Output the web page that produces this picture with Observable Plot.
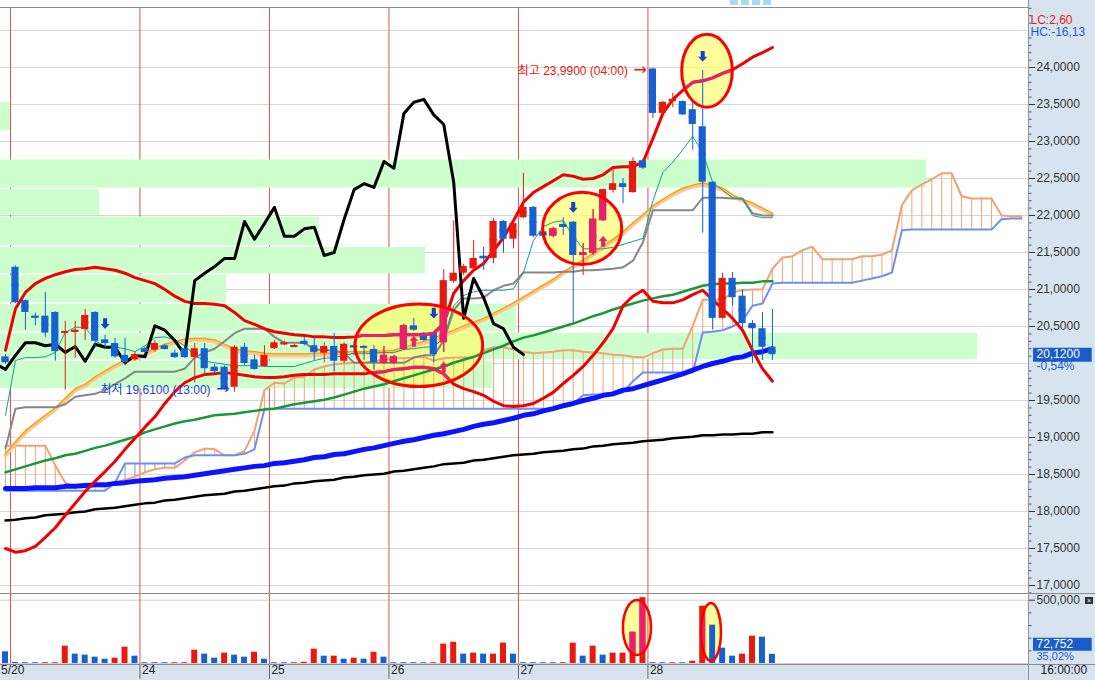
<!DOCTYPE html>
<html><head><meta charset="utf-8">
<script src="https://cdn.jsdelivr.net/npm/d3@7"></script>
<script src="https://cdn.jsdelivr.net/npm/@observablehq/plot@0.6"></script>
<style>
body{margin:0;background:#fff;}
#wrap{position:relative;width:1095px;height:680px;overflow:hidden;background:#fff;}
.abs{position:absolute;}
</style></head><body>
<div id="wrap">
  <div class="abs" style="left:1028px;top:0;width:67px;height:680px;background:#d8e3f0"></div>
  <div class="abs" style="left:0;top:664px;width:1028px;height:16px;background:#d8e3f0"></div>
  <div id="pp" class="abs" style="left:0;top:0"></div>
  <div id="vv" class="abs" style="left:0;top:593px"></div>
  <div class="abs" style="left:0;top:7px;width:1028px;height:1px;background:#8c8c8c"></div>
  <div class="abs" style="left:0;top:593px;width:1095px;height:1px;background:#8c8c8c"></div>
  <div class="abs" style="left:0;top:664px;width:1095px;height:1px;background:#8c8c8c"></div>
  <div class="abs" style="left:1028px;top:0;width:1px;height:680px;background:#8c96a2"></div>
  <div class="abs" style="left:730px;top:0;width:8px;height:5px;background:#a8d8f2"></div>
  <div class="abs" style="left:741px;top:0;width:8px;height:5px;background:#a8d8f2"></div>
  <div class="abs" style="left:752px;top:0;width:8px;height:5px;background:#a8d8f2"></div>
  <div class="abs" style="left:763px;top:0;width:8px;height:5px;background:#a8d8f2"></div>
  <div class="abs" style="left:1085px;top:597px;width:8px;height:7px;background:#333;color:#fff;font:7px/7px sans-serif;text-align:center">×</div>
</div>
<script>
// ---------- data (hourly bars, index 0..77) ----------
const open = [20.09,21.30,20.85,20.64,20.64,20.69,20.42,20.43,20.46,20.69,
20.32,20.27,20.11,20.05,20.20,20.18,20.24,20.14,20.20,20.08,
20.20,19.95,19.95,19.68,20.22,20.05,19.96,20.20,20.26,20.23,
20.30,20.24,20.14,20.23,20.03,20.24,20.23,20.19,20.00,20.00,
20.19,20.51,20.41,20.42,20.28,21.11,21.22,21.28,21.45,21.42,
21.92,21.68,21.97,22.11,21.78,21.72,21.88,21.91,21.46,21.49,
21.93,22.34,22.43,22.31,22.74,23.98,23.38,23.55,23.54,23.43,
23.20,22.45,20.61,21.15,20.91,20.54,20.47,20.22];
const high = [20.12,21.32,20.86,20.68,20.96,20.70,20.57,20.57,20.73,20.70,
20.38,20.34,20.34,20.15,20.22,20.31,20.26,20.18,20.22,20.27,
20.27,19.99,19.97,20.24,20.27,20.11,20.24,20.31,20.30,20.26,
20.35,20.35,20.28,20.41,20.28,20.27,20.24,20.24,20.23,20.11,
20.53,20.61,20.42,20.43,21.27,21.93,21.34,21.66,21.57,21.96,
21.93,21.93,22.57,22.12,21.80,21.84,21.97,21.92,21.62,22.08,
22.36,22.64,22.50,22.78,22.76,23.99,23.54,23.65,23.55,23.55,
23.96,22.46,21.22,21.23,21.00,20.58,20.69,20.73];
const low = [19.99,20.81,20.45,20.51,20.35,20.03,19.64,20.07,20.31,20.22,
20.19,20.07,19.97,20.03,20.14,20.15,20.18,20.07,20.07,19.74,
19.86,19.86,19.64,19.61,19.97,19.91,19.95,20.19,20.24,20.22,
20.24,20.04,20.01,19.89,20.00,20.11,20.04,19.91,19.99,19.99,
20.18,20.43,20.30,20.01,20.15,21.08,21.19,21.26,21.26,21.35,
21.49,21.55,21.96,21.70,21.70,21.70,21.73,20.55,21.19,21.46,
21.92,22.30,22.16,22.30,22.62,23.31,23.36,23.46,23.35,22.88,
21.76,20.46,20.60,20.78,20.47,20.00,20.04,20.04];
const close = [20.01,20.82,20.69,20.62,20.41,20.16,20.43,20.45,20.65,20.30,
20.27,20.09,20.01,20.12,20.15,20.27,20.19,20.08,20.08,20.20,
19.93,19.89,19.66,20.22,20.00,19.92,20.11,20.28,20.28,20.24,
20.26,20.15,20.23,20.03,20.26,20.22,20.22,20.01,20.11,20.09,
20.51,20.45,20.31,20.12,21.12,21.22,21.31,21.42,21.42,21.92,
21.68,21.89,22.11,21.72,21.72,21.82,21.84,21.46,21.50,21.95,
22.35,22.43,22.38,22.73,22.64,23.38,23.53,23.57,23.36,23.23,
22.45,20.61,21.15,20.89,20.54,20.47,20.22,20.12];
const volume = [92000,8000,6000,6000,6000,6000,137000,74000,66000,50000,
34000,42000,129000,58000,6000,6000,6000,6000,6000,105000,
74000,42000,82000,66000,50000,89000,34000,6000,6000,6000,
10000,113000,58000,58000,34000,42000,34000,89000,50000,6000,
6000,6000,6000,6000,153000,168000,74000,82000,74000,74000,
161000,74000,6000,6000,6000,6000,6000,161000,58000,137000,
66000,82000,82000,247000,520000,6000,6000,6000,6000,18000,
453000,303000,121000,58000,74000,216000,208000,72752];
// 1 = up (red), -1 = down (blue) as coloured in the volume pane
const volumeDir = [-1,-1,-1,-1,1,1,1,-1,-1,-1,
-1,1,1,-1,-1,-1,-1,1,1,1,
-1,-1,1,-1,-1,1,-1,-1,-1,1,
1,1,-1,1,-1,1,-1,1,-1,-1,
-1,-1,-1,1,1,1,-1,1,-1,1,
1,-1,-1,-1,-1,-1,1,1,-1,1,
-1,1,1,1,1,-1,-1,1,-1,1,
1,-1,-1,-1,1,1,-1,-1];
const bbUpper = [20.18,20.74,20.96,21.08,21.15,21.20,21.24,21.27,21.28,21.30,
21.28,21.26,21.22,21.16,21.12,21.08,21.00,20.91,20.84,20.81,
20.81,20.80,20.78,20.69,20.58,20.53,20.47,20.43,20.41,20.39,
20.38,20.36,20.36,20.35,20.35,20.36,20.38,20.38,20.38,20.39,
20.39,20.39,20.39,20.41,20.54,20.95,21.12,21.26,21.35,21.53,
21.70,21.93,22.18,22.31,22.39,22.47,22.55,22.53,22.49,22.50,
22.55,22.65,22.66,22.66,22.72,23.04,23.38,23.57,23.69,23.80,
23.82,23.86,23.92,23.97,24.05,24.14,24.20,24.27];
const bbLower = [17.50,17.45,17.47,17.53,17.65,17.78,17.95,18.11,18.27,18.41,
18.54,18.68,18.84,18.99,19.14,19.28,19.46,19.62,19.74,19.81,
19.85,19.86,19.88,19.86,19.84,19.82,19.81,19.81,19.82,19.84,
19.85,19.85,19.85,19.86,19.86,19.86,19.86,19.88,19.89,19.92,
19.93,19.95,19.95,19.93,19.86,19.72,19.66,19.62,19.57,19.49,
19.43,19.42,19.43,19.46,19.53,19.61,19.73,19.84,19.96,20.11,
20.28,20.47,20.78,20.91,20.99,20.84,20.82,20.82,20.86,20.93,
20.99,20.86,20.74,20.61,20.45,20.18,19.93,19.76];
const bbMid = [18.76,18.92,19.07,19.18,19.28,19.38,19.51,19.64,19.70,19.80,
19.88,19.96,20.03,20.07,20.11,20.19,20.24,20.28,20.31,20.32,
20.32,20.30,20.24,20.18,20.15,20.14,20.12,20.11,20.11,20.11,
20.11,20.12,20.12,20.12,20.14,20.14,20.14,20.15,20.15,20.16,
20.20,20.24,20.28,20.32,20.38,20.43,20.49,20.54,20.59,20.66,
20.73,20.80,20.88,20.96,21.04,21.12,21.22,21.30,21.38,21.47,
21.57,21.66,21.76,21.88,21.99,22.11,22.20,22.28,22.35,22.39,
22.42,22.39,22.35,22.26,22.20,22.15,22.08,22.01];
const tenkan = [19.30,20.04,20.08,20.08,20.09,20.15,20.42,20.49,20.49,20.31,
20.23,20.22,20.20,20.16,20.24,20.35,20.36,20.32,20.24,20.11,
20.03,20.01,19.99,19.97,19.97,19.97,19.96,19.96,19.96,19.96,
20.00,20.04,20.07,20.08,20.11,20.14,20.14,20.14,20.15,20.15,
20.19,20.20,20.22,20.23,20.34,20.78,20.92,20.97,20.99,20.99,
20.99,21.01,21.23,21.66,21.85,21.91,21.93,21.72,21.55,21.55,
21.55,21.57,21.61,21.65,21.69,22.20,22.58,22.72,22.89,23.07,
22.85,22.45,22.34,22.24,22.22,22.00,21.97,21.97];
const kijun = [18.85,19.39,19.41,19.41,19.41,19.41,19.45,19.55,19.57,19.59,
19.64,19.72,19.80,19.89,19.89,19.89,19.89,19.89,19.93,20.08,
20.15,20.20,20.30,20.41,20.47,20.47,20.47,20.36,20.28,20.28,
20.28,20.19,20.18,20.18,20.14,20.01,20.01,20.01,20.01,20.01,
20.01,20.08,20.11,20.11,20.31,20.72,20.88,20.88,20.89,20.99,
21.05,21.08,21.23,21.23,21.23,21.23,21.24,21.24,21.26,21.26,
21.27,21.28,21.30,21.39,21.64,22.07,22.07,22.07,22.07,22.07,
22.24,22.24,22.24,22.23,22.23,22.03,22.00,22.00];
const ma60 = [18.53,18.57,18.61,18.65,18.69,18.72,18.76,18.78,18.82,18.86,
18.89,18.93,18.97,19.01,19.07,19.11,19.15,19.19,19.22,19.24,
19.27,19.30,19.31,19.32,19.34,19.36,19.38,19.39,19.42,19.45,
19.47,19.49,19.51,19.54,19.58,19.62,19.66,19.69,19.72,19.76,
19.80,19.84,19.88,19.92,19.96,20.01,20.05,20.09,20.14,20.19,
20.24,20.30,20.35,20.38,20.42,20.46,20.50,20.54,20.59,20.64,
20.68,20.73,20.77,20.81,20.85,20.88,20.91,20.93,20.97,21.01,
21.05,21.07,21.08,21.08,21.09,21.09,21.11,21.11];
const ma120 = [18.31,18.31,18.31,18.32,18.32,18.32,18.34,18.34,18.35,18.36,
18.36,18.38,18.39,18.41,18.42,18.43,18.45,18.46,18.47,18.49,
18.51,18.53,18.55,18.57,18.59,18.61,18.62,18.65,18.66,18.68,
18.70,18.73,18.74,18.77,18.78,18.81,18.84,18.86,18.89,18.92,
18.95,18.97,19.00,19.03,19.05,19.08,19.11,19.15,19.18,19.20,
19.23,19.26,19.30,19.32,19.36,19.39,19.43,19.46,19.50,19.53,
19.57,19.59,19.64,19.66,19.70,19.74,19.78,19.82,19.86,19.91,
19.96,20.00,20.03,20.07,20.09,20.14,20.16,20.20];
const ma240 = [17.88,17.89,17.91,17.92,17.95,17.96,17.97,17.99,18.00,18.03,
18.04,18.05,18.07,18.09,18.11,18.12,18.15,18.16,18.18,18.20,
18.22,18.23,18.24,18.27,18.28,18.30,18.32,18.34,18.35,18.38,
18.39,18.41,18.42,18.43,18.46,18.47,18.49,18.50,18.51,18.54,
18.55,18.57,18.59,18.61,18.64,18.65,18.66,18.69,18.70,18.72,
18.74,18.76,18.77,18.78,18.80,18.81,18.82,18.84,18.85,18.88,
18.89,18.91,18.92,18.93,18.95,18.96,18.97,18.99,19.00,19.01,
19.03,19.03,19.04,19.04,19.05,19.05,19.07,19.07];
// leading spans, index 0..102 (extend past the last bar)
const spanA = [18.89,18.89,18.89,18.89,18.89,18.62,18.39,18.34,18.34,18.34,
18.34,18.39,18.43,18.47,18.53,18.57,18.59,18.59,18.69,18.80,
18.85,18.84,18.76,18.76,18.82,19.09,19.64,19.74,19.73,19.81,
19.82,19.92,19.96,19.99,20.00,20.01,20.01,20.03,20.05,20.07,
20.07,20.08,20.09,20.04,20.07,20.08,20.08,20.08,20.18,20.22,
20.22,20.19,20.16,20.14,20.15,20.16,20.18,20.18,20.16,20.15,
20.14,20.12,20.11,20.09,20.08,20.14,20.19,20.20,20.20,20.51,
20.86,20.86,20.86,20.96,20.99,21.00,21.00,21.28,21.43,21.45,
21.53,21.58,21.41,21.41,21.41,21.41,21.45,21.45,21.47,21.53,
22.14,22.34,22.42,22.49,22.57,22.57,22.26,22.23,22.23,22.23,
22.00,21.99,21.99];
const spanB = [18.28,18.28,18.28,18.28,18.28,18.28,18.28,18.28,18.28,18.28,
18.28,18.39,18.65,18.65,18.65,18.65,18.65,18.65,18.73,18.76,
18.76,18.76,18.76,18.76,18.78,18.84,19.39,19.39,19.39,19.39,
19.39,19.39,19.39,19.39,19.39,19.39,19.39,19.39,19.39,19.39,
19.39,19.39,19.39,19.39,19.39,19.39,19.39,19.39,19.39,19.39,
19.39,19.39,19.39,19.39,19.39,19.39,19.41,19.46,19.57,19.58,
19.58,19.58,19.61,19.76,19.88,19.88,19.88,19.88,19.88,19.88,
20.42,20.43,20.45,20.50,20.58,20.78,20.81,21.08,21.09,21.09,
21.09,21.09,21.09,21.09,21.09,21.09,21.12,21.15,21.18,21.23,
21.80,21.81,21.81,21.81,21.81,21.81,21.81,21.81,21.81,21.81,
21.95,21.96,21.96];
// price-by-volume profile (bin edges bottom->top, relative volume per bin)
const profileEdges = [19.65,20.04,20.42,20.81,21.20,21.58,21.99,22.36,22.76,23.14,23.54];
const profileVolume = [492,977,516,226,425,319,99,926,0,10];
const chikouShift = 25;
const priceTicks = [17,17.5,18,18.5,19,19.5,20.5,21,21.5,22,22.5,23,23.5,24];
const gridLevels = [17,17.5,18,18.5,19,19.5,20,20.5,21,21.5,22,22.5,23,23.5,24,24.5];
const dayBreaks = [0.5,13.5,26.5,38.5,51.5,64.5];
const dayLabelAt = [-0.65,13.5,26.5,38.5,51.5,64.5];
const dayNames = ["5/20","24","25","26","27","28"];
const timeText = "16:00:00";
const lcText = "LC:2,60", hcText = "HC:-16,13";
const priceChange = "-0,54%", volumeChange = "35,02%";
const extremes = [
  {k: 65, v: 23.99, label: "최고 23,9900 (04:00)", kind: "high"},
  {k: 23, v: 19.61, label: "최저 19,6100 (13:00)", kind: "low"}
];
const signals = [
  {k:10,v:20.54,dir:-1},{k:43,v:20.68,dir:-1},{k:57,v:22.11,dir:-1},{k:70,v:24.15,dir:-1},
  {k:41,v:20.30,dir:1},{k:44,v:19.95,dir:1},{k:60,v:21.65,dir:1}
];
const priceEllipses = [
  {k:41.55,v:20.24,rk:6.41,rv:0.558},
  {k:70.48,v:23.95,rk:2.54,rv:0.493},
  {k:57.95,v:21.82,rk:3.97,rv:0.488}
];
const volumeEllipses = [
  {k:63.45,v:280000,rk:1.41,rv:217000},
  {k:70.88,v:245000,rk:1.0,rv:229000}
];

// ---------- styling ----------
const RED = "#e8190f", BLUE = "#1660d0", PINK = "#e8206e", BOXBLUE = "#1a5cc8", LOWBLUE = "#1a3ce0";
const FONT = '"Liberation Sans", Arial, "Noto Sans CJK KR", sans-serif';
const xDomain = [-0.502, 102.71];
const xEnd = xDomain[1];
const profileUnit = 0.1004;
const fmt4 = d => d.toFixed(4).replace(".", ",");
const svgStyle = {background: "transparent", fontFamily: FONT, fontSize: "12px", color: "#333", overflow: "hidden"};

const candles = open.map((o, k) => ({k, o, h: high[k], l: low[k], c: close[k]}));
const up = candles.filter(d => d.c >= d.o), down = candles.filter(d => d.c < d.o);
const seq = arr => arr.map((v, k) => ({k, v}));
const cloud = spanA.map((a, k) => ({k, a, b: spanB[k]}));
const chikou = close.map((v, i) => ({k: i - chikouShift, v})).filter(d => d.k >= -1);
const profile = profileVolume.map((v, i) => ({lo: profileEdges[i], hi: profileEdges[i + 1], v})).filter(d => d.v > 0);
const minorTicks = d3.range(169, 249).map(i => i / 10).filter(t => Math.round(t * 10) % 5 !== 0);
const last = close[close.length - 1];
const lastVol = volume[volume.length - 1];
const vols = volume.map((v, k) => ({k, v, dir: volumeDir[k]}));

const arrowDown = {draw(ctx, size) {
  const r = Math.sqrt(size / Math.PI), sw = r * 0.45, hh = r * 0.1;
  ctx.moveTo(-sw, -r * 1.2); ctx.lineTo(sw, -r * 1.2); ctx.lineTo(sw, hh); ctx.lineTo(r, hh);
  ctx.lineTo(0, r * 1.2); ctx.lineTo(-r, hh); ctx.lineTo(-sw, hh); ctx.closePath();
}};
const arrowUp = {draw(ctx, size) {
  const r = Math.sqrt(size / Math.PI), sw = r * 0.45, hh = r * 0.1;
  ctx.moveTo(-sw, r * 1.2); ctx.lineTo(sw, r * 1.2); ctx.lineTo(sw, -hh); ctx.lineTo(r, -hh);
  ctx.lineTo(0, -r * 1.2); ctx.lineTo(-r, -hh); ctx.lineTo(-sw, -hh); ctx.closePath();
}};
const body = (k) => [k - 0.36, k + 0.36];

const price = Plot.plot({
  width: 1095, height: 593, marginTop: 7, marginBottom: 0, marginLeft: 0, marginRight: 67,
  style: svgStyle,
  x: {domain: xDomain, axis: null},
  y: {domain: [16.892, 24.811], axis: "right", ticks: priceTicks, tickFormat: fmt4, tickSize: 6, tickPadding: 2, label: null},
  marks: [
    Plot.ruleY(gridLevels, {stroke: "#d6d6d6"}),
    Plot.ruleX(dayBreaks, {stroke: "#e05050"}),
    Plot.rect(profile, {x1: () => xDomain[0], x2: d => xDomain[0] + d.v * profileUnit, y1: "lo", y2: "hi",
      fill: "#ccffcc", insetTop: 0.8, insetBottom: 0.8, ariaDescription: "profile"}),
    Plot.ruleX(cloud.filter(d => d.a >= d.b), {x: "k", y1: "a", y2: "b", stroke: "#f3a474", strokeWidth: 1}),
    Plot.ruleX(cloud.filter(d => d.a < d.b), {x: "k", y1: "a", y2: "b", stroke: "#7896ee", strokeWidth: 1}),
    Plot.line(cloud, {x: "k", y: "a", stroke: "#f3a072", strokeWidth: 2}),
    Plot.line(cloud, {x: "k", y: "b", stroke: "#6f8ff0", strokeWidth: 2}),
    Plot.line(seq(ma240), {x: "k", y: "v", stroke: "#000", strokeWidth: 2.5}),
    Plot.line(seq(ma120), {x: "k", y: "v", stroke: "#0a14ff", strokeWidth: 5}),
    Plot.line(seq(ma60), {x: "k", y: "v", stroke: "#169a38", strokeWidth: 2.5}),
    Plot.line(seq(bbMid), {x: "k", y: "v", stroke: "#ffc58e", strokeWidth: 4}),
    Plot.line(seq(bbMid), {x: "k", y: "v", stroke: "#f0a000", strokeWidth: 1.2, dy: -1.5}),
    Plot.line(seq(kijun), {x: "k", y: "v", stroke: "#868686", strokeWidth: 2}),
    Plot.line(seq(tenkan), {x: "k", y: "v", stroke: "#12a083", strokeWidth: 1}),
    Plot.line(seq(bbUpper), {x: "k", y: "v", stroke: "#f00000", strokeWidth: 3, ariaDescription: "red"}),
    Plot.line(seq(bbLower), {x: "k", y: "v", stroke: "#f00000", strokeWidth: 3, ariaDescription: "red"}),
    Plot.line(chikou, {x: "k", y: "v", stroke: "#000", strokeWidth: 3}),
    Plot.ruleX(up, {x: "k", y1: "l", y2: "h", stroke: RED, ariaDescription: "red"}),
    Plot.ruleX(down, {x: "k", y1: "l", y2: "h", stroke: BLUE}),
    Plot.rect(up, {x1: d => body(d.k)[0], x2: d => body(d.k)[1], y1: "o", y2: "c", fill: RED, ariaDescription: "red"}),
    Plot.rect(down, {x1: d => body(d.k)[0], x2: d => body(d.k)[1], y1: "o", y2: "c", fill: BLUE}),
    Plot.ruleY(up, {y: d => (d.o + d.c) / 2, x1: d => body(d.k)[0], x2: d => body(d.k)[1], stroke: RED, strokeWidth: 2, ariaDescription: "red"}),
    Plot.ruleY(down, {y: d => (d.o + d.c) / 2, x1: d => body(d.k)[0], x2: d => body(d.k)[1], stroke: BLUE, strokeWidth: 2}),
    Plot.dot(signals.filter(d => d.dir < 0), {x: "k", y: "v", symbol: arrowDown, r: 4.5, fill: "#1840c8", stroke: "none", ariaDescription: "signals"}),
    Plot.dot(signals.filter(d => d.dir > 0), {x: "k", y: "v", symbol: arrowUp, r: 4.5, fill: PINK, stroke: "none"}),
    // extreme labels + pointing arrows
    Plot.text(extremes.filter(d => d.kind === "high"), {x: "k", y: "v", text: "label", textAnchor: "end", dx: -25, dy: 3, fill: RED}),
    Plot.text(extremes.filter(d => d.kind === "high"), {x: "k", y: "v", text: () => "→", textAnchor: "end", dx: -6, dy: 2, fill: RED, fontSize: 16, fontFamily: "DejaVu Sans"}),
    Plot.text(extremes.filter(d => d.kind === "low"), {x: "k", y: "v", text: "label", textAnchor: "end", dx: -24, dy: -2, fill: LOWBLUE}),
    Plot.text(extremes.filter(d => d.kind === "low"), {x: "k", y: "v", text: () => "→", textAnchor: "end", dx: -5, dy: -3, fill: LOWBLUE, fontSize: 16, fontFamily: "DejaVu Sans"}),
    // right axis extras
    Plot.ruleY(minorTicks, {x1: () => xEnd, x2: () => xEnd + 0.35, stroke: "#555"}),
    Plot.ruleY([last], {y: d => d, x1: () => xEnd + 0.5, x2: () => xEnd + 6.4, stroke: BOXBLUE, strokeWidth: 14}),
    Plot.text([last], {x: () => xEnd, y: d => d, text: d => fmt4(d), dx: 8, textAnchor: "start", fill: "white"}),
    Plot.text([last], {x: () => xEnd, y: d => d, text: () => priceChange, dx: 8, dy: 12, textAnchor: "start", fill: BOXBLUE}),
    Plot.text([lcText], {text: d => d, frameAnchor: "top-right", dx: 2, dy: 8, textAnchor: "start", fill: RED}),
    Plot.text([hcText], {text: d => d, frameAnchor: "top-right", dx: 2, dy: 20, textAnchor: "start", fill: BOXBLUE})
  ]
});

const volumePlot = Plot.plot({
  width: 1095, height: 87, marginTop: 1, marginBottom: 17, marginLeft: 0, marginRight: 67,
  style: svgStyle,
  x: {domain: xDomain, axis: null},
  y: {domain: [0, 545000], axis: "right", ticks: [500000], tickFormat: d3.format(","), tickSize: 6, tickPadding: 2, label: null},
  marks: [
    Plot.ruleY([0, 500000], {stroke: "#d0d0d0", ariaDescription: "grid"}),
    Plot.ruleX(dayBreaks, {stroke: "#e05050"}),
    Plot.rect(vols.filter(d => d.dir > 0), {x1: d => d.k - 0.3, x2: d => d.k + 0.3, y1: () => 0, y2: "v", fill: RED, ariaDescription: "red"}),
    Plot.rect(vols.filter(d => d.dir < 0), {x1: d => d.k - 0.3, x2: d => d.k + 0.3, y1: () => 0, y2: "v", fill: BLUE, ariaDescription: "bluevol"}),
    Plot.ruleY([100000, 200000, 300000, 400000], {x1: () => xEnd, x2: () => xEnd + 0.35, stroke: "#555"}),
    Plot.ruleY([lastVol], {y: d => d, x1: () => xEnd + 0.5, x2: () => xEnd + 6.4, stroke: BOXBLUE, strokeWidth: 13, dy: -10}),
    Plot.text([lastVol], {x: () => xEnd, y: d => d, text: d => d3.format(",")(d), dx: 8, dy: -10, textAnchor: "start", fill: "white"}),
    Plot.text([lastVol], {x: () => xEnd, y: d => d, text: () => volumeChange, dx: 8, dy: 2, textAnchor: "start", fill: BOXBLUE, fontSize: 11}),
    Plot.ruleX(dayBreaks.slice(1), {y1: () => -3000, y2: () => -125000, stroke: "#666"}),
    Plot.text(dayNames.map((t, i) => ({t, k: dayLabelAt[i]})), {x: "k", text: "t", frameAnchor: "bottom", dx: 2, dy: 10, textAnchor: "start", fill: "#222"}),
    Plot.text([timeText], {x: () => xEnd, text: d => d, frameAnchor: "bottom", dx: 12, dy: 10, textAnchor: "start", fill: "#222"})
  ]
});

function decorate(svg, ells, id, fillAfter, overlayBefore, sw) {
  const sx = svg.scale("x"), sy = svg.scale("y");
  const px = ells.map(e => {
    const cx = sx.apply(e.k), cy = sy.apply(e.v);
    return {cx, cy, rx: Math.abs(sx.apply(e.k + e.rk) - cx), ry: Math.abs(sy.apply(e.v + e.rv) - cy)};
  });
  const root = d3.select(svg);
  const clip = root.insert("defs", ":first-child").append("clipPath").attr("id", id);
  px.forEach(p => clip.append("ellipse").attr("cx", p.cx).attr("cy", p.cy).attr("rx", p.rx).attr("ry", p.ry));
  const after = svg.querySelector(`[aria-description="${fillAfter}"]`);
  const g = document.createElementNS("http://www.w3.org/2000/svg", "g");
  after.parentNode.insertBefore(g, after.nextSibling);
  px.forEach(p => d3.select(g).append("ellipse").attr("cx", p.cx).attr("cy", p.cy).attr("rx", p.rx).attr("ry", p.ry)
    .attr("fill", "#ffff66").attr("fill-opacity", 0.65));
  const before = overlayBefore ? svg.querySelector(`[aria-description="${overlayBefore}"]`) : null;
  svg.querySelectorAll('[aria-description="red"]').forEach(n => {
    const c = n.cloneNode(true);
    c.removeAttribute("aria-description");
    if (c.hasAttribute("fill") && c.getAttribute("fill") !== "none") c.setAttribute("fill", PINK);
    if (c.hasAttribute("stroke") && c.getAttribute("stroke") !== "none") c.setAttribute("stroke", PINK);
    c.setAttribute("clip-path", `url(#${id})`);
    if (before) before.parentNode.insertBefore(c, before); else svg.appendChild(c);
  });
  const gs = root.append("g");
  px.forEach(p => gs.append("ellipse").attr("cx", p.cx).attr("cy", p.cy).attr("rx", p.rx).attr("ry", p.ry)
    .attr("fill", "none").attr("stroke", "#ff0000").attr("stroke-width", sw));
}
decorate(price, priceEllipses, "clipP", "profile", "signals", 3);
decorate(volumePlot, volumeEllipses, "clipV", "grid", "bluevol", 2.5);

document.getElementById("pp").appendChild(price);
document.getElementById("vv").appendChild(volumePlot);
</script>
</body></html>
